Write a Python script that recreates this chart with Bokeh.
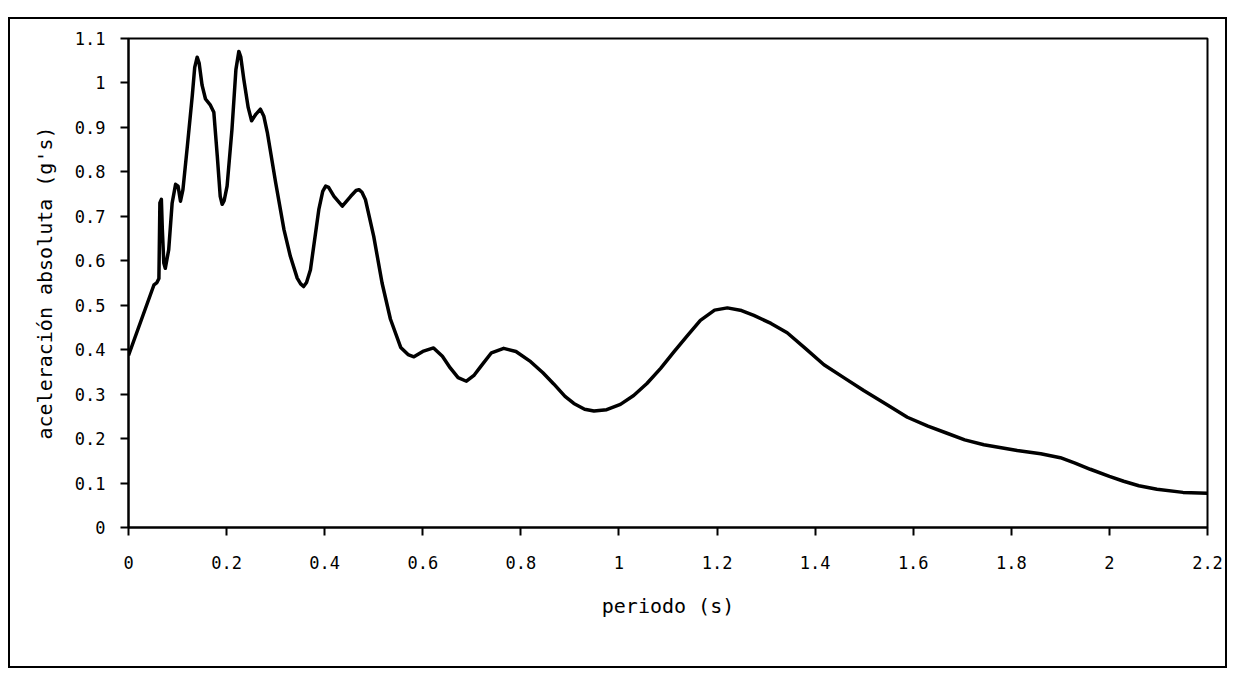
from bokeh.plotting import figure
from bokeh.models import FixedTicker, Range1d
from bokeh.embed import file_html
from bokeh.resources import INLINE

# --- data ---
periodo = [0.000, 0.052, 0.058, 0.062, 0.064, 0.067, 0.069, 0.072, 0.075, 0.082,
           0.089, 0.096, 0.101, 0.106, 0.111, 0.120, 0.130, 0.135, 0.140, 0.144,
           0.150, 0.157, 0.167, 0.174, 0.181, 0.187, 0.191, 0.195, 0.201, 0.211,
           0.219, 0.225, 0.229, 0.235, 0.244, 0.251, 0.260, 0.269, 0.276, 0.283,
           0.300, 0.317, 0.330, 0.344, 0.351, 0.357, 0.363, 0.371, 0.388, 0.396,
           0.402, 0.408, 0.419, 0.436, 0.453, 0.464, 0.470, 0.476, 0.483, 0.500,
           0.517, 0.534, 0.555, 0.570, 0.582, 0.600, 0.622, 0.640, 0.656, 0.672,
           0.689, 0.705, 0.718, 0.740, 0.765, 0.790, 0.820, 0.845, 0.867, 0.890,
           0.908, 0.930, 0.949, 0.975, 1.003, 1.030, 1.057, 1.085, 1.112, 1.140,
           1.166, 1.195, 1.221, 1.250, 1.275, 1.310, 1.343, 1.380, 1.418, 1.460,
           1.499, 1.545, 1.588, 1.630, 1.669, 1.705, 1.744, 1.812, 1.860, 1.900,
           1.930, 1.961, 2.000, 2.029, 2.060, 2.097, 2.150, 2.200]
aceleracion = [0.387, 0.546, 0.551, 0.560, 0.730, 0.738, 0.670, 0.595, 0.583, 0.625,
               0.730, 0.772, 0.768, 0.734, 0.760, 0.858, 0.971, 1.035, 1.058, 1.045,
               0.995, 0.964, 0.950, 0.934, 0.836, 0.745, 0.727, 0.735, 0.768, 0.896,
               1.030, 1.071, 1.058, 1.009, 0.945, 0.915, 0.930, 0.941, 0.925, 0.889,
               0.776, 0.670, 0.610, 0.561, 0.548, 0.542, 0.551, 0.580, 0.715, 0.756,
               0.768, 0.765, 0.745, 0.723, 0.745, 0.758, 0.760, 0.754, 0.738, 0.655,
               0.550, 0.469, 0.405, 0.389, 0.384, 0.396, 0.404, 0.385, 0.359, 0.337,
               0.329, 0.343, 0.362, 0.393, 0.403, 0.396, 0.373, 0.348, 0.323, 0.295,
               0.279, 0.266, 0.262, 0.265, 0.277, 0.297, 0.324, 0.358, 0.395, 0.432,
               0.466, 0.489, 0.494, 0.488, 0.477, 0.459, 0.438, 0.403, 0.366, 0.336,
               0.308, 0.277, 0.248, 0.228, 0.212, 0.197, 0.186, 0.173, 0.166, 0.157,
               0.145, 0.131, 0.115, 0.104, 0.094, 0.086, 0.079, 0.077]

x_ticks = [0, 0.2, 0.4, 0.6, 0.8, 1.0, 1.2, 1.4, 1.6, 1.8, 2.0, 2.2]
x_tick_labels = ["0", "0.2", "0.4", "0.6", "0.8", "1", "1.2", "1.4", "1.6", "1.8", "2", "2.2"]
y_ticks = [0, 0.1, 0.2, 0.3, 0.4, 0.5, 0.6, 0.7, 0.8, 0.9, 1.0, 1.1]
y_tick_labels = ["0", "0.1", "0.2", "0.3", "0.4", "0.5", "0.6", "0.7", "0.8", "0.9", "1", "1.1"]

x_label = "periodo (s)"
y_label = "aceleración absoluta (g's)"

FONT = "DejaVu Sans Mono"

p = figure(width=1219, height=651, output_backend="svg", toolbar_location=None,
           x_range=Range1d(0, 2.2), y_range=Range1d(0, 1.1),
           min_border_left=118, min_border_right=22, min_border_top=19, min_border_bottom=143,
           background_fill_color="white", border_fill_color="white")
p.styles = {"margin-top": "17px", "margin-left": "8px", "border": "2px solid black"}

p.grid.visible = False
p.outline_line_color = "black"
p.outline_line_width = 2

p.line(periodo, aceleracion, line_color="black", line_width=3.5, line_join="round")

p.xaxis.ticker = FixedTicker(ticks=x_ticks)
p.yaxis.ticker = FixedTicker(ticks=y_ticks)
p.xaxis.major_label_overrides = dict(zip(x_ticks, x_tick_labels))
p.yaxis.major_label_overrides = dict(zip(y_ticks, y_tick_labels))
p.xaxis.axis_label = x_label
p.yaxis.axis_label = y_label

for ax in (p.xaxis[0], p.yaxis[0]):
    ax.axis_line_color = "black"
    ax.axis_line_width = 2
    ax.major_tick_line_color = "black"
    ax.major_tick_line_width = 2
    ax.major_tick_out = 8
    ax.major_tick_in = 0
    ax.minor_tick_out = 0
    ax.minor_tick_in = 0
    ax.major_label_text_font = FONT
    ax.major_label_text_font_size = "17px"
    ax.major_label_text_color = "black"
    ax.axis_label_text_font = FONT
    ax.axis_label_text_font_size = "20px"
    ax.axis_label_text_font_style = "normal"
    ax.axis_label_text_color = "black"

p.xaxis.major_label_standoff = 20
p.xaxis.axis_label_standoff = 22
p.yaxis.major_label_standoff = 15
p.yaxis.axis_label_standoff = 15

open("out.html", "w").write(file_html(p, INLINE))
